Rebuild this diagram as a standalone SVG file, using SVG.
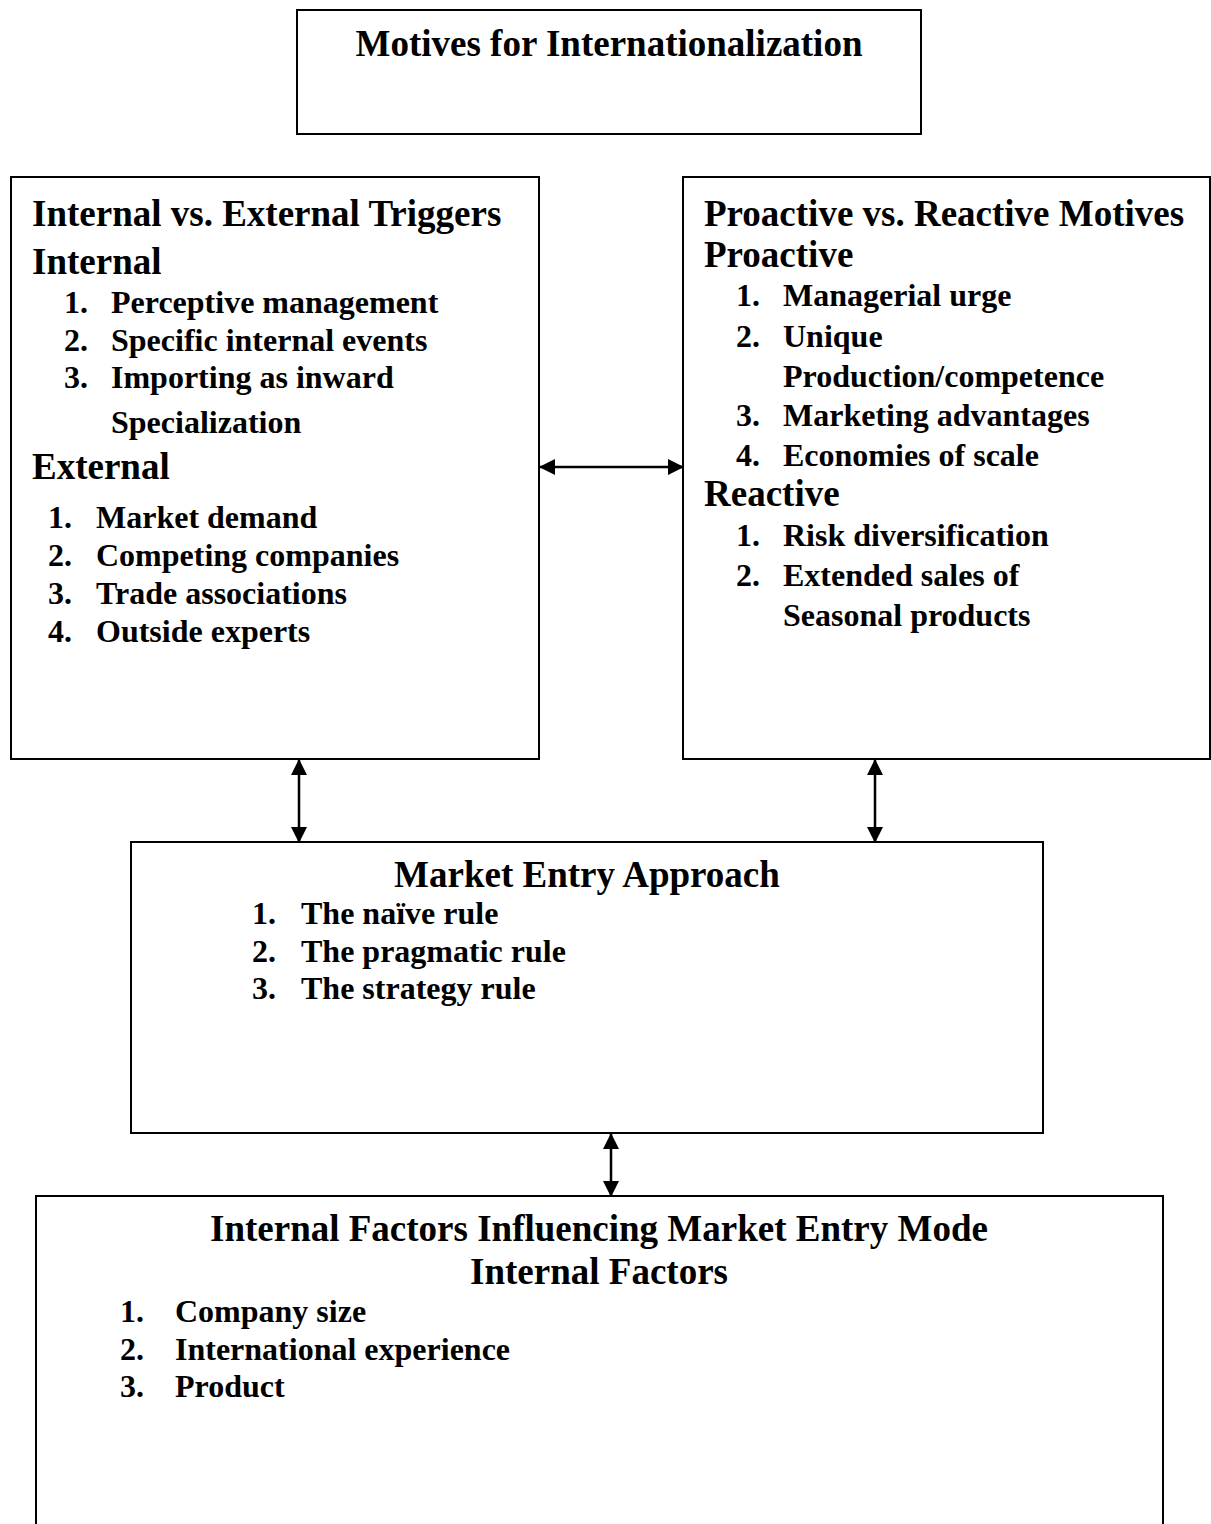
<svg xmlns="http://www.w3.org/2000/svg" width="1211" height="1524" viewBox="0 0 1211 1524">
<style>
.box{fill:#fff;stroke:#000;stroke-width:2}
text{font-family:"Liberation Serif","Times New Roman",serif;font-weight:bold;fill:#000}
.h{font-size:37px}
.i{font-size:32px}
.c{text-anchor:middle}
.conn{stroke:#000;stroke-width:2.5;fill:none}
</style>
<defs>
<marker id="ah" viewBox="0 0 16 16" refX="15" refY="8" markerWidth="16" markerHeight="16" markerUnits="userSpaceOnUse" orient="auto-start-reverse">
<path d="M0,0 L16,8 L0,16 Z" fill="#000"/>
</marker>
</defs>
<rect width="1211" height="1524" fill="#fff"/>
<g id="node-motives">
<rect class="box" x="297" y="10" width="624" height="124"/>
<text class="h c" x="609" y="56">Motives for Internationalization</text>
</g>
<g id="node-triggers">
<rect class="box" x="11" y="177" width="528" height="582"/>
<text class="h" x="32" y="226">Internal vs. External Triggers</text>
<text class="h" x="32" y="274">Internal</text>
<text class="i" x="64" y="313">1.</text><text class="i" x="111" y="313">Perceptive management</text>
<text class="i" x="64" y="351">2.</text><text class="i" x="111" y="351">Specific internal events</text>
<text class="i" x="64" y="388">3.</text><text class="i" x="111" y="388">Importing as inward</text>
<text class="i" x="111" y="433">Specialization</text>
<text class="h" x="32" y="479">External</text>
<text class="i" x="48" y="528">1.</text><text class="i" x="96" y="528">Market demand</text>
<text class="i" x="48" y="566">2.</text><text class="i" x="96" y="566">Competing companies</text>
<text class="i" x="48" y="604">3.</text><text class="i" x="96" y="604">Trade associations</text>
<text class="i" x="48" y="642">4.</text><text class="i" x="96" y="642">Outside experts</text>
</g>
<g id="node-motives-pr">
<rect class="box" x="683" y="177" width="527" height="582"/>
<text class="h" x="704" y="226">Proactive vs. Reactive Motives</text>
<text class="h" x="704" y="267">Proactive</text>
<text class="i" x="736" y="306">1.</text><text class="i" x="783" y="306">Managerial urge</text>
<text class="i" x="736" y="347">2.</text><text class="i" x="783" y="347">Unique</text>
<text class="i" x="783" y="387">Production/competence</text>
<text class="i" x="736" y="426">3.</text><text class="i" x="783" y="426">Marketing advantages</text>
<text class="i" x="736" y="466">4.</text><text class="i" x="783" y="466">Economies of scale</text>
<text class="h" x="704" y="506">Reactive</text>
<text class="i" x="736" y="546">1.</text><text class="i" x="783" y="546">Risk diversification</text>
<text class="i" x="736" y="586">2.</text><text class="i" x="783" y="586">Extended sales of</text>
<text class="i" x="783" y="626">Seasonal products</text>
</g>
<g id="node-entry">
<rect class="box" x="131" y="842" width="912" height="291"/>
<text class="h c" x="587" y="887">Market Entry Approach</text>
<text class="i" x="252" y="924">1.</text><text class="i" x="301" y="924">The naïve rule</text>
<text class="i" x="252" y="962">2.</text><text class="i" x="301" y="962">The pragmatic rule</text>
<text class="i" x="252" y="999">3.</text><text class="i" x="301" y="999">The strategy rule</text>
</g>
<g id="node-factors">
<rect class="box" x="36" y="1196" width="1127" height="400"/>
<text class="h c" x="599" y="1241">Internal Factors Influencing Market Entry Mode</text>
<text class="h c" x="599" y="1284">Internal Factors</text>
<text class="i" x="120" y="1322">1.</text><text class="i" x="175" y="1322">Company size</text>
<text class="i" x="120" y="1360">2.</text><text class="i" x="175" y="1360">International experience</text>
<text class="i" x="120" y="1397">3.</text><text class="i" x="175" y="1397">Product</text>
</g>
<g id="connectors">
<line class="conn" x1="540" y1="467" x2="683" y2="467" marker-start="url(#ah)" marker-end="url(#ah)"/>
<line class="conn" x1="299" y1="760" x2="299" y2="842" marker-start="url(#ah)" marker-end="url(#ah)"/>
<line class="conn" x1="875" y1="760" x2="875" y2="842" marker-start="url(#ah)" marker-end="url(#ah)"/>
<line class="conn" x1="611" y1="1134" x2="611" y2="1196" marker-start="url(#ah)" marker-end="url(#ah)"/>
</g>
</svg>
